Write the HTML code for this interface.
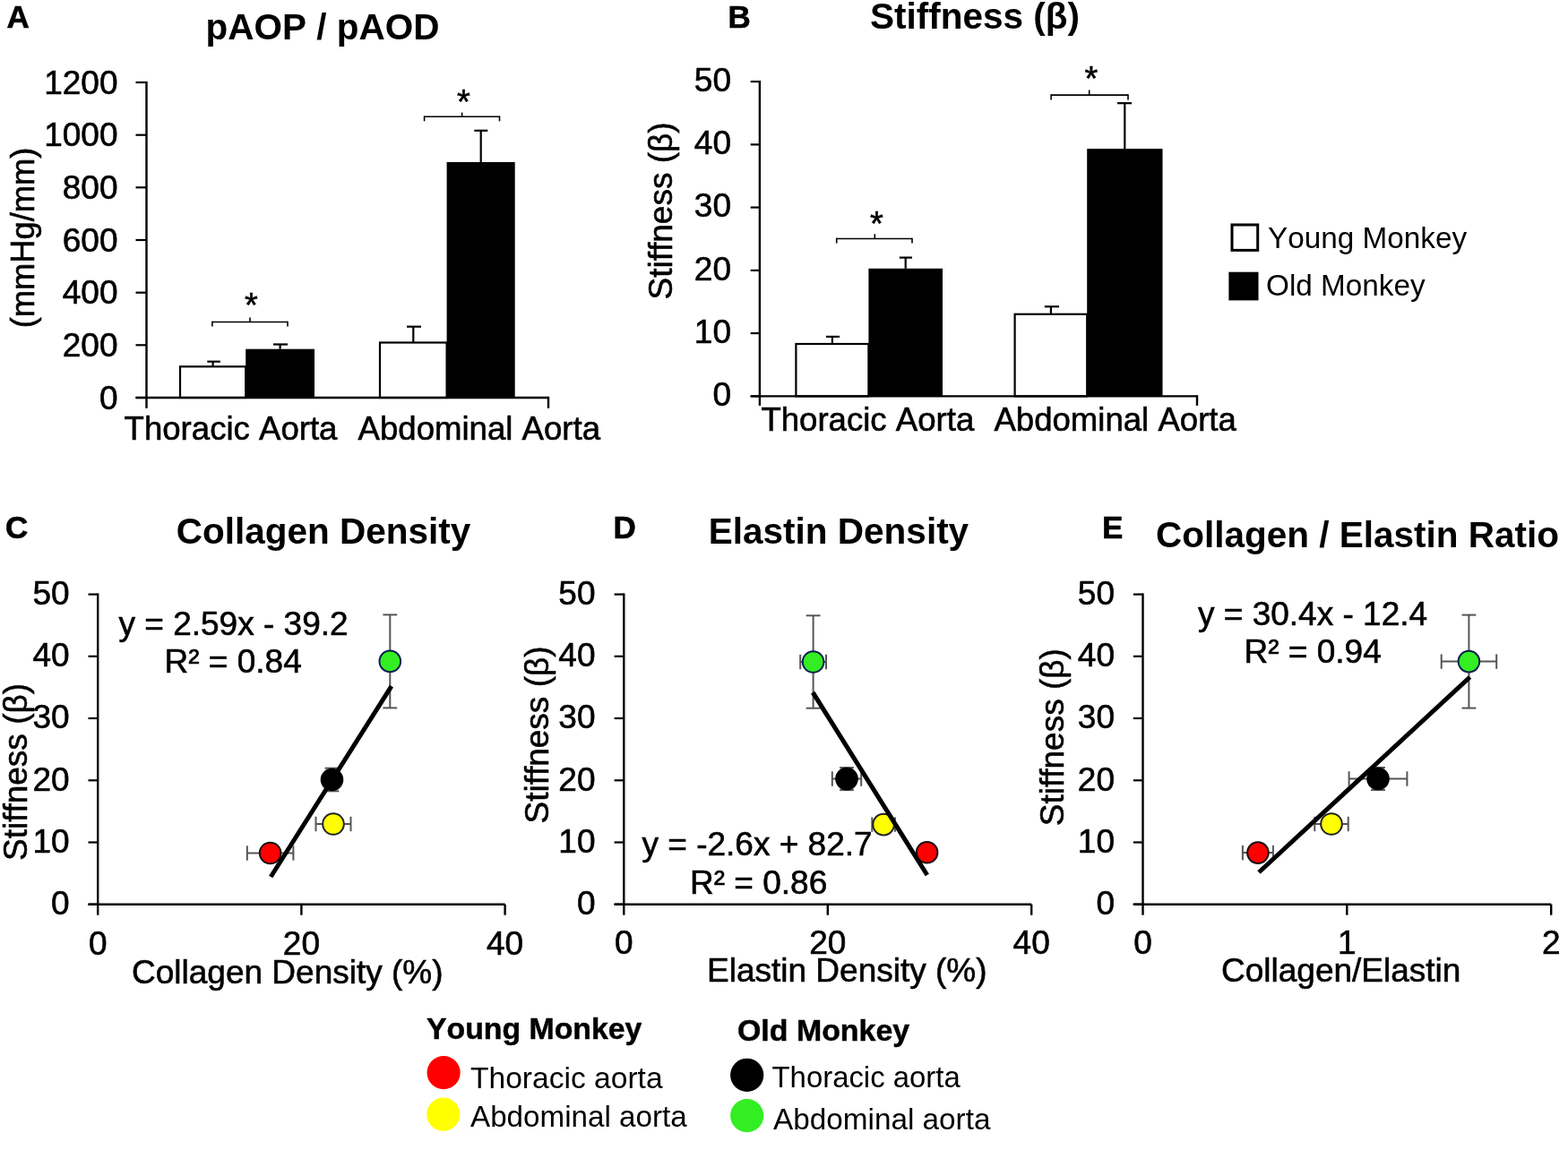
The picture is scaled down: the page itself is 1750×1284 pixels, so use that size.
<!DOCTYPE html>
<html><head><meta charset="utf-8"><title>Figure</title>
<style>html,body{margin:0;padding:0;background:#fff;}svg{display:block;}text{font-variant-ligatures:none;font-kerning:none;}</style>
</head><body>
<svg width="1750" height="1284" viewBox="0 0 1750 1284">
<rect width="1750" height="1284" fill="#fff"/>
<g font-family="Liberation Sans, Arial, sans-serif" fill="#000">
<line x1="237.6" y1="409.3" x2="237.6" y2="403.7" stroke="#000" stroke-width="2.2"/>
<line x1="231.3" y1="403.7" x2="245.9" y2="403.7" stroke="#000" stroke-width="2.2"/>
<rect x="201.0" y="409.3" width="73.2" height="34.7" fill="#fff" stroke="#000" stroke-width="2.2"/>
<line x1="312.6" y1="389.7" x2="312.6" y2="384.5" stroke="#000" stroke-width="2.2"/>
<line x1="305.0" y1="384.5" x2="321.0" y2="384.5" stroke="#000" stroke-width="2.2"/>
<rect x="274.2" y="389.7" width="76.8" height="54.3" fill="#000"/>
<line x1="461.3" y1="382.5" x2="461.3" y2="364.7" stroke="#000" stroke-width="2.2"/>
<line x1="454.0" y1="364.7" x2="470.0" y2="364.7" stroke="#000" stroke-width="2.2"/>
<rect x="424.0" y="382.5" width="74.6" height="61.5" fill="#fff" stroke="#000" stroke-width="2.2"/>
<line x1="536.7" y1="181.0" x2="536.7" y2="145.8" stroke="#000" stroke-width="2.2"/>
<line x1="529.3" y1="145.8" x2="544.3" y2="145.8" stroke="#000" stroke-width="2.2"/>
<rect x="498.6" y="181.0" width="76.1" height="263.0" fill="#000"/>
<line x1="163.5" y1="91.0" x2="163.5" y2="445.0" stroke="#000" stroke-width="2.4"/>
<line x1="151.5" y1="444.0" x2="163.5" y2="444.0" stroke="#000" stroke-width="2.2"/>
<text x="131.5" y="456.5" font-size="37" stroke="#000" stroke-width="0.6" text-anchor="end">0</text>
<line x1="151.5" y1="385.3" x2="163.5" y2="385.3" stroke="#000" stroke-width="2.2"/>
<text x="131.5" y="397.8" font-size="37" stroke="#000" stroke-width="0.6" text-anchor="end">200</text>
<line x1="151.5" y1="326.7" x2="163.5" y2="326.7" stroke="#000" stroke-width="2.2"/>
<text x="131.5" y="339.2" font-size="37" stroke="#000" stroke-width="0.6" text-anchor="end">400</text>
<line x1="151.5" y1="268.0" x2="163.5" y2="268.0" stroke="#000" stroke-width="2.2"/>
<text x="131.5" y="280.5" font-size="37" stroke="#000" stroke-width="0.6" text-anchor="end">600</text>
<line x1="151.5" y1="209.3" x2="163.5" y2="209.3" stroke="#000" stroke-width="2.2"/>
<text x="131.5" y="221.8" font-size="37" stroke="#000" stroke-width="0.6" text-anchor="end">800</text>
<line x1="151.5" y1="150.7" x2="163.5" y2="150.7" stroke="#000" stroke-width="2.2"/>
<text x="131.5" y="163.2" font-size="37" stroke="#000" stroke-width="0.6" text-anchor="end">1000</text>
<line x1="151.5" y1="92.0" x2="163.5" y2="92.0" stroke="#000" stroke-width="2.2"/>
<text x="131.5" y="104.5" font-size="37" stroke="#000" stroke-width="0.6" text-anchor="end">1200</text>
<line x1="151.5" y1="444.0" x2="612.0" y2="444.0" stroke="#000" stroke-width="2.4"/>
<line x1="163.5" y1="444.0" x2="163.5" y2="455.8" stroke="#000" stroke-width="2.4"/>
<line x1="612.0" y1="442.8" x2="612.0" y2="455.8" stroke="#000" stroke-width="2.4"/>
<line x1="236.9" y1="359.5" x2="321.0" y2="359.5" stroke="#000" stroke-width="1.6"/>
<line x1="236.9" y1="358.7" x2="236.9" y2="364.6" stroke="#000" stroke-width="1.6"/>
<line x1="321.0" y1="358.7" x2="321.0" y2="364.6" stroke="#000" stroke-width="1.6"/>
<line x1="279.0" y1="359.5" x2="279.0" y2="354.4" stroke="#000" stroke-width="1.6"/>
<text x="280.4" y="354.4" font-size="38" stroke="#000" stroke-width="0.6" text-anchor="middle" stroke="#000" stroke-width="0.7">*</text>
<line x1="473.6" y1="130.3" x2="557.5" y2="130.3" stroke="#000" stroke-width="1.6"/>
<line x1="473.6" y1="129.5" x2="473.6" y2="135.3" stroke="#000" stroke-width="1.6"/>
<line x1="557.5" y1="129.5" x2="557.5" y2="135.3" stroke="#000" stroke-width="1.6"/>
<line x1="515.6" y1="130.3" x2="515.6" y2="125.6" stroke="#000" stroke-width="1.6"/>
<text x="517.5" y="126.7" font-size="38" stroke="#000" stroke-width="0.6" text-anchor="middle" stroke="#000" stroke-width="0.7">*</text>
<text x="138.6" y="491.0" font-size="36.6" stroke="#000" stroke-width="0.6" text-anchor="start">Thoracic Aorta</text>
<text x="399.6" y="491.0" font-size="36.6" stroke="#000" stroke-width="0.6" text-anchor="start">Abdominal Aorta</text>
<line x1="928.9" y1="384.0" x2="928.9" y2="375.9" stroke="#000" stroke-width="2.2"/>
<line x1="922.0" y1="375.9" x2="937.0" y2="375.9" stroke="#000" stroke-width="2.2"/>
<rect x="888.4" y="384.0" width="81.0" height="58.4" fill="#fff" stroke="#000" stroke-width="2.2"/>
<line x1="1010.7" y1="299.8" x2="1010.7" y2="287.6" stroke="#000" stroke-width="2.2"/>
<line x1="1003.8" y1="287.6" x2="1018.0" y2="287.6" stroke="#000" stroke-width="2.2"/>
<rect x="969.4" y="299.8" width="82.6" height="142.6" fill="#000"/>
<line x1="1172.9" y1="350.8" x2="1172.9" y2="342.3" stroke="#000" stroke-width="2.2"/>
<line x1="1165.8" y1="342.3" x2="1182.0" y2="342.3" stroke="#000" stroke-width="2.2"/>
<rect x="1132.6" y="350.8" width="80.6" height="91.6" fill="#fff" stroke="#000" stroke-width="2.2"/>
<line x1="1255.3" y1="166.1" x2="1255.3" y2="115.2" stroke="#000" stroke-width="2.2"/>
<line x1="1247.0" y1="115.2" x2="1263.0" y2="115.2" stroke="#000" stroke-width="2.2"/>
<rect x="1213.2" y="166.1" width="84.3" height="276.3" fill="#000"/>
<line x1="847.9" y1="90.1" x2="847.9" y2="443.4" stroke="#000" stroke-width="2.4"/>
<line x1="837.7" y1="442.4" x2="847.9" y2="442.4" stroke="#000" stroke-width="2.2"/>
<text x="816.0" y="453.2" font-size="37" stroke="#000" stroke-width="0.6" text-anchor="end">0</text>
<line x1="837.7" y1="372.1" x2="847.9" y2="372.1" stroke="#000" stroke-width="2.2"/>
<text x="816.0" y="382.9" font-size="37" stroke="#000" stroke-width="0.6" text-anchor="end">10</text>
<line x1="837.7" y1="301.9" x2="847.9" y2="301.9" stroke="#000" stroke-width="2.2"/>
<text x="816.0" y="312.7" font-size="37" stroke="#000" stroke-width="0.6" text-anchor="end">20</text>
<line x1="837.7" y1="231.6" x2="847.9" y2="231.6" stroke="#000" stroke-width="2.2"/>
<text x="816.0" y="242.4" font-size="37" stroke="#000" stroke-width="0.6" text-anchor="end">30</text>
<line x1="837.7" y1="161.4" x2="847.9" y2="161.4" stroke="#000" stroke-width="2.2"/>
<text x="816.0" y="172.2" font-size="37" stroke="#000" stroke-width="0.6" text-anchor="end">40</text>
<line x1="837.7" y1="91.1" x2="847.9" y2="91.1" stroke="#000" stroke-width="2.2"/>
<text x="816.0" y="101.9" font-size="37" stroke="#000" stroke-width="0.6" text-anchor="end">50</text>
<line x1="837.7" y1="442.4" x2="1336.0" y2="442.4" stroke="#000" stroke-width="2.4"/>
<line x1="847.9" y1="442.4" x2="847.9" y2="452.9" stroke="#000" stroke-width="2.4"/>
<line x1="1336.0" y1="441.2" x2="1336.0" y2="452.9" stroke="#000" stroke-width="2.4"/>
<line x1="933.7" y1="266.5" x2="1018.0" y2="266.5" stroke="#000" stroke-width="1.6"/>
<line x1="933.7" y1="265.7" x2="933.7" y2="271.6" stroke="#000" stroke-width="1.6"/>
<line x1="1018.0" y1="265.7" x2="1018.0" y2="271.6" stroke="#000" stroke-width="1.6"/>
<line x1="976.3" y1="266.5" x2="976.3" y2="261.3" stroke="#000" stroke-width="1.6"/>
<text x="978.5" y="262.7" font-size="38" stroke="#000" stroke-width="0.6" text-anchor="middle" stroke="#000" stroke-width="0.7">*</text>
<line x1="1173.1" y1="106.1" x2="1259.0" y2="106.1" stroke="#000" stroke-width="1.6"/>
<line x1="1173.1" y1="105.3" x2="1173.1" y2="111.6" stroke="#000" stroke-width="1.6"/>
<line x1="1259.0" y1="105.3" x2="1259.0" y2="111.6" stroke="#000" stroke-width="1.6"/>
<line x1="1215.7" y1="106.1" x2="1215.7" y2="100.5" stroke="#000" stroke-width="1.6"/>
<text x="1218.0" y="100.7" font-size="38" stroke="#000" stroke-width="0.6" text-anchor="middle" stroke="#000" stroke-width="0.7">*</text>
<text x="849.4" y="481.3" font-size="36.6" stroke="#000" stroke-width="0.6" text-anchor="start">Thoracic Aorta</text>
<text x="1109.4" y="481.2" font-size="36.6" stroke="#000" stroke-width="0.6" text-anchor="start">Abdominal Aorta</text>
<text x="7.4" y="30.5" font-size="35" font-weight="bold" text-anchor="start" stroke="#000" stroke-width="0.6">A</text>
<text x="229.5" y="43.8" font-size="40.5" font-weight="bold" text-anchor="start">pAOP / pAOD</text>
<text x="812.4" y="30.5" font-size="35" font-weight="bold" text-anchor="start" stroke="#000" stroke-width="0.6">B</text>
<text x="971.0" y="31.6" font-size="40.5" font-weight="bold" text-anchor="start">Stiffness (β)</text>
<text x="0.0" y="0.0" font-size="36.3" stroke="#000" stroke-width="0.6" text-anchor="middle" transform="translate(37.8,265.5) rotate(-90)">(mmHg/mm)</text>
<text x="0.0" y="0.0" font-size="37" stroke="#000" stroke-width="0.6" text-anchor="middle" transform="translate(750,235.4) rotate(-90)">Stiffness (β)</text>
<rect x="1375.0" y="251.0" width="28.7" height="28.4" fill="#fff" stroke="#000" stroke-width="3"/>
<rect x="1371.4" y="303.7" width="33.1" height="31.7" fill="#000"/>
<text x="1415.0" y="276.8" font-size="33.3" text-anchor="start">Young Monkey</text>
<text x="1413.0" y="329.8" font-size="33.3" text-anchor="start">Old Monkey</text>
<line x1="109.2" y1="662.6" x2="109.2" y2="1010.7" stroke="#000" stroke-width="2.4"/>
<line x1="98.5" y1="1009.7" x2="109.2" y2="1009.7" stroke="#000" stroke-width="2.2"/>
<text x="77.6" y="1020.9" font-size="37" stroke="#000" stroke-width="0.6" text-anchor="end">0</text>
<line x1="98.5" y1="940.5" x2="109.2" y2="940.5" stroke="#000" stroke-width="2.2"/>
<text x="77.6" y="951.7" font-size="37" stroke="#000" stroke-width="0.6" text-anchor="end">10</text>
<line x1="98.5" y1="871.3" x2="109.2" y2="871.3" stroke="#000" stroke-width="2.2"/>
<text x="77.6" y="882.5" font-size="37" stroke="#000" stroke-width="0.6" text-anchor="end">20</text>
<line x1="98.5" y1="802.0" x2="109.2" y2="802.0" stroke="#000" stroke-width="2.2"/>
<text x="77.6" y="813.2" font-size="37" stroke="#000" stroke-width="0.6" text-anchor="end">30</text>
<line x1="98.5" y1="732.8" x2="109.2" y2="732.8" stroke="#000" stroke-width="2.2"/>
<text x="77.6" y="744.0" font-size="37" stroke="#000" stroke-width="0.6" text-anchor="end">40</text>
<line x1="98.5" y1="663.6" x2="109.2" y2="663.6" stroke="#000" stroke-width="2.2"/>
<text x="77.6" y="674.8" font-size="37" stroke="#000" stroke-width="0.6" text-anchor="end">50</text>
<line x1="98.5" y1="1009.7" x2="563.6" y2="1009.7" stroke="#000" stroke-width="2.4"/>
<line x1="109.2" y1="1009.7" x2="109.2" y2="1021.7" stroke="#000" stroke-width="2.4"/>
<text x="109.2" y="1066.3" font-size="37" stroke="#000" stroke-width="0.6" text-anchor="middle">0</text>
<line x1="336.4" y1="1009.7" x2="336.4" y2="1021.7" stroke="#000" stroke-width="2.4"/>
<text x="336.4" y="1066.3" font-size="37" stroke="#000" stroke-width="0.6" text-anchor="middle">20</text>
<line x1="563.6" y1="1009.7" x2="563.6" y2="1021.7" stroke="#000" stroke-width="2.4"/>
<text x="563.6" y="1066.3" font-size="37" stroke="#000" stroke-width="0.6" text-anchor="middle">40</text>
<line x1="435.3" y1="686.4" x2="435.3" y2="790.4" stroke="#555" stroke-width="2"/>
<line x1="427.4" y1="686.4" x2="443.2" y2="686.4" stroke="#555" stroke-width="2"/>
<line x1="427.4" y1="790.4" x2="443.2" y2="790.4" stroke="#555" stroke-width="2"/>
<line x1="370.5" y1="857.7" x2="370.5" y2="883.3" stroke="#555" stroke-width="2"/>
<line x1="362.6" y1="857.7" x2="378.4" y2="857.7" stroke="#555" stroke-width="2"/>
<line x1="362.6" y1="883.3" x2="378.4" y2="883.3" stroke="#555" stroke-width="2"/>
<line x1="352.5" y1="920.0" x2="391.5" y2="920.0" stroke="#555" stroke-width="2"/>
<line x1="352.5" y1="911.8" x2="352.5" y2="928.2" stroke="#555" stroke-width="2"/>
<line x1="391.5" y1="911.8" x2="391.5" y2="928.2" stroke="#555" stroke-width="2"/>
<line x1="275.8" y1="952.5" x2="327.4" y2="952.5" stroke="#555" stroke-width="2"/>
<line x1="275.8" y1="944.3" x2="275.8" y2="960.7" stroke="#555" stroke-width="2"/>
<line x1="327.4" y1="944.3" x2="327.4" y2="960.7" stroke="#555" stroke-width="2"/>
<circle cx="435.3" cy="738.4" r="11.8" fill="#33ee22" stroke="#0a1e50" stroke-width="2"/>
<circle cx="370.5" cy="870.5" r="11.8" fill="#000" stroke="#000" stroke-width="2"/>
<circle cx="372.0" cy="920.0" r="11.8" fill="#ffff00" stroke="#222" stroke-width="2"/>
<circle cx="301.6" cy="952.5" r="11.8" fill="#ff0000" stroke="#111" stroke-width="2"/>
<line x1="302.2" y1="979.0" x2="436.9" y2="766.2" stroke="#000" stroke-width="5"/>
<text x="6.1" y="601.0" font-size="35" font-weight="bold" text-anchor="start" stroke="#000" stroke-width="0.6">C</text>
<text x="196.8" y="607.1" font-size="40.5" font-weight="bold" text-anchor="start">Collagen Density</text>
<text x="132.5" y="709.3" font-size="37" stroke="#000" stroke-width="0.6" text-anchor="start">y = 2.59x - 39.2</text>
<text x="183.5" y="750.6" font-size="37" stroke="#000" stroke-width="0.6" text-anchor="start">R² = 0.84</text>
<text x="147.0" y="1098.4" font-size="37" stroke="#000" stroke-width="0.6" text-anchor="start">Collagen Density (%)</text>
<line x1="696.3" y1="662.6" x2="696.3" y2="1010.7" stroke="#000" stroke-width="2.4"/>
<line x1="685.6" y1="1009.7" x2="696.3" y2="1009.7" stroke="#000" stroke-width="2.2"/>
<text x="664.5" y="1020.9" font-size="37" stroke="#000" stroke-width="0.6" text-anchor="end">0</text>
<line x1="685.6" y1="940.5" x2="696.3" y2="940.5" stroke="#000" stroke-width="2.2"/>
<text x="664.5" y="951.7" font-size="37" stroke="#000" stroke-width="0.6" text-anchor="end">10</text>
<line x1="685.6" y1="871.3" x2="696.3" y2="871.3" stroke="#000" stroke-width="2.2"/>
<text x="664.5" y="882.5" font-size="37" stroke="#000" stroke-width="0.6" text-anchor="end">20</text>
<line x1="685.6" y1="802.0" x2="696.3" y2="802.0" stroke="#000" stroke-width="2.2"/>
<text x="664.5" y="813.2" font-size="37" stroke="#000" stroke-width="0.6" text-anchor="end">30</text>
<line x1="685.6" y1="732.8" x2="696.3" y2="732.8" stroke="#000" stroke-width="2.2"/>
<text x="664.5" y="744.0" font-size="37" stroke="#000" stroke-width="0.6" text-anchor="end">40</text>
<line x1="685.6" y1="663.6" x2="696.3" y2="663.6" stroke="#000" stroke-width="2.2"/>
<text x="664.5" y="674.8" font-size="37" stroke="#000" stroke-width="0.6" text-anchor="end">50</text>
<line x1="685.6" y1="1009.7" x2="1151.2" y2="1009.7" stroke="#000" stroke-width="2.4"/>
<line x1="696.3" y1="1009.7" x2="696.3" y2="1021.7" stroke="#000" stroke-width="2.4"/>
<text x="696.3" y="1064.6" font-size="37" stroke="#000" stroke-width="0.6" text-anchor="middle">0</text>
<line x1="923.8" y1="1009.7" x2="923.8" y2="1021.7" stroke="#000" stroke-width="2.4"/>
<text x="923.8" y="1064.6" font-size="37" stroke="#000" stroke-width="0.6" text-anchor="middle">20</text>
<line x1="1151.2" y1="1009.7" x2="1151.2" y2="1021.7" stroke="#000" stroke-width="2.4"/>
<text x="1151.2" y="1064.6" font-size="37" stroke="#000" stroke-width="0.6" text-anchor="middle">40</text>
<line x1="893.2" y1="739.0" x2="922.0" y2="739.0" stroke="#555" stroke-width="2"/>
<line x1="893.2" y1="730.8" x2="893.2" y2="747.2" stroke="#555" stroke-width="2"/>
<line x1="922.0" y1="730.8" x2="922.0" y2="747.2" stroke="#555" stroke-width="2"/>
<line x1="907.6" y1="687.3" x2="907.6" y2="790.7" stroke="#555" stroke-width="2"/>
<line x1="899.7" y1="687.3" x2="915.5" y2="687.3" stroke="#555" stroke-width="2"/>
<line x1="899.7" y1="790.7" x2="915.5" y2="790.7" stroke="#555" stroke-width="2"/>
<line x1="928.8" y1="869.6" x2="961.2" y2="869.6" stroke="#555" stroke-width="2"/>
<line x1="928.8" y1="861.4" x2="928.8" y2="877.8" stroke="#555" stroke-width="2"/>
<line x1="961.2" y1="861.4" x2="961.2" y2="877.8" stroke="#555" stroke-width="2"/>
<line x1="945.0" y1="857.1" x2="945.0" y2="882.1" stroke="#555" stroke-width="2"/>
<line x1="937.1" y1="857.1" x2="952.9" y2="857.1" stroke="#555" stroke-width="2"/>
<line x1="937.1" y1="882.1" x2="952.9" y2="882.1" stroke="#555" stroke-width="2"/>
<line x1="973.3" y1="920.6" x2="998.9" y2="920.6" stroke="#555" stroke-width="2"/>
<line x1="973.3" y1="912.4" x2="973.3" y2="928.8" stroke="#555" stroke-width="2"/>
<line x1="998.9" y1="912.4" x2="998.9" y2="928.8" stroke="#555" stroke-width="2"/>
<circle cx="907.6" cy="739.0" r="11.8" fill="#33ee22" stroke="#0a1e50" stroke-width="2"/>
<circle cx="945.0" cy="869.6" r="11.8" fill="#000" stroke="#000" stroke-width="2"/>
<circle cx="986.1" cy="920.6" r="11.8" fill="#ffff00" stroke="#222" stroke-width="2"/>
<circle cx="1034.6" cy="951.8" r="11.8" fill="#ff0000" stroke="#111" stroke-width="2"/>
<line x1="907.2" y1="773.2" x2="1034.8" y2="977.0" stroke="#000" stroke-width="5"/>
<text x="684.4" y="601.0" font-size="35" font-weight="bold" text-anchor="start" stroke="#000" stroke-width="0.6">D</text>
<text x="790.8" y="607.1" font-size="40.5" font-weight="bold" text-anchor="start">Elastin Density</text>
<text x="716.5" y="955.0" font-size="37" stroke="#000" stroke-width="0.6" text-anchor="start">y = -2.6x + 82.7</text>
<text x="770.0" y="997.6" font-size="37" stroke="#000" stroke-width="0.6" text-anchor="start">R² = 0.86</text>
<text x="789.0" y="1095.9" font-size="37" stroke="#000" stroke-width="0.6" text-anchor="start">Elastin Density (%)</text>
<line x1="1275.5" y1="662.6" x2="1275.5" y2="1010.7" stroke="#000" stroke-width="2.4"/>
<line x1="1264.8" y1="1009.7" x2="1275.5" y2="1009.7" stroke="#000" stroke-width="2.2"/>
<text x="1244.0" y="1020.9" font-size="37" stroke="#000" stroke-width="0.6" text-anchor="end">0</text>
<line x1="1264.8" y1="940.5" x2="1275.5" y2="940.5" stroke="#000" stroke-width="2.2"/>
<text x="1244.0" y="951.7" font-size="37" stroke="#000" stroke-width="0.6" text-anchor="end">10</text>
<line x1="1264.8" y1="871.3" x2="1275.5" y2="871.3" stroke="#000" stroke-width="2.2"/>
<text x="1244.0" y="882.5" font-size="37" stroke="#000" stroke-width="0.6" text-anchor="end">20</text>
<line x1="1264.8" y1="802.0" x2="1275.5" y2="802.0" stroke="#000" stroke-width="2.2"/>
<text x="1244.0" y="813.2" font-size="37" stroke="#000" stroke-width="0.6" text-anchor="end">30</text>
<line x1="1264.8" y1="732.8" x2="1275.5" y2="732.8" stroke="#000" stroke-width="2.2"/>
<text x="1244.0" y="744.0" font-size="37" stroke="#000" stroke-width="0.6" text-anchor="end">40</text>
<line x1="1264.8" y1="663.6" x2="1275.5" y2="663.6" stroke="#000" stroke-width="2.2"/>
<text x="1244.0" y="674.8" font-size="37" stroke="#000" stroke-width="0.6" text-anchor="end">50</text>
<line x1="1264.8" y1="1009.7" x2="1731.2" y2="1009.7" stroke="#000" stroke-width="2.4"/>
<line x1="1275.5" y1="1009.7" x2="1275.5" y2="1021.7" stroke="#000" stroke-width="2.4"/>
<text x="1275.5" y="1065.3" font-size="37" stroke="#000" stroke-width="0.6" text-anchor="middle">0</text>
<line x1="1503.3" y1="1009.7" x2="1503.3" y2="1021.7" stroke="#000" stroke-width="2.4"/>
<text x="1503.3" y="1065.3" font-size="37" stroke="#000" stroke-width="0.6" text-anchor="middle">1</text>
<line x1="1731.2" y1="1009.7" x2="1731.2" y2="1021.7" stroke="#000" stroke-width="2.4"/>
<text x="1731.2" y="1065.3" font-size="37" stroke="#000" stroke-width="0.6" text-anchor="middle">2</text>
<line x1="1608.7" y1="738.6" x2="1670.2" y2="738.6" stroke="#555" stroke-width="2"/>
<line x1="1608.7" y1="730.4" x2="1608.7" y2="746.8" stroke="#555" stroke-width="2"/>
<line x1="1670.2" y1="730.4" x2="1670.2" y2="746.8" stroke="#555" stroke-width="2"/>
<line x1="1639.4" y1="686.6" x2="1639.4" y2="790.6" stroke="#555" stroke-width="2"/>
<line x1="1631.5" y1="686.6" x2="1647.3" y2="686.6" stroke="#555" stroke-width="2"/>
<line x1="1631.5" y1="790.6" x2="1647.3" y2="790.6" stroke="#555" stroke-width="2"/>
<line x1="1505.6" y1="869.5" x2="1570.4" y2="869.5" stroke="#555" stroke-width="2"/>
<line x1="1505.6" y1="861.3" x2="1505.6" y2="877.7" stroke="#555" stroke-width="2"/>
<line x1="1570.4" y1="861.3" x2="1570.4" y2="877.7" stroke="#555" stroke-width="2"/>
<line x1="1538.0" y1="857.0" x2="1538.0" y2="882.0" stroke="#555" stroke-width="2"/>
<line x1="1530.1" y1="857.0" x2="1545.9" y2="857.0" stroke="#555" stroke-width="2"/>
<line x1="1530.1" y1="882.0" x2="1545.9" y2="882.0" stroke="#555" stroke-width="2"/>
<line x1="1467.3" y1="920.0" x2="1504.7" y2="920.0" stroke="#555" stroke-width="2"/>
<line x1="1467.3" y1="911.8" x2="1467.3" y2="928.2" stroke="#555" stroke-width="2"/>
<line x1="1504.7" y1="911.8" x2="1504.7" y2="928.2" stroke="#555" stroke-width="2"/>
<line x1="1386.9" y1="952.1" x2="1420.9" y2="952.1" stroke="#555" stroke-width="2"/>
<line x1="1386.9" y1="943.9" x2="1386.9" y2="960.3" stroke="#555" stroke-width="2"/>
<line x1="1420.9" y1="943.9" x2="1420.9" y2="960.3" stroke="#555" stroke-width="2"/>
<circle cx="1639.4" cy="738.6" r="11.8" fill="#33ee22" stroke="#0a1e50" stroke-width="2"/>
<circle cx="1538.0" cy="869.5" r="11.8" fill="#000" stroke="#000" stroke-width="2"/>
<circle cx="1486.0" cy="920.0" r="11.8" fill="#ffff00" stroke="#222" stroke-width="2"/>
<circle cx="1403.9" cy="952.1" r="11.8" fill="#ff0000" stroke="#111" stroke-width="2"/>
<line x1="1405.0" y1="974.0" x2="1640.5" y2="756.0" stroke="#000" stroke-width="5"/>
<text x="1230.1" y="601.0" font-size="35" font-weight="bold" text-anchor="start" stroke="#000" stroke-width="0.6">E</text>
<text x="1290.0" y="610.5" font-size="40.5" font-weight="bold" text-anchor="start">Collagen / Elastin Ratio</text>
<text x="1337.0" y="698.4" font-size="37" stroke="#000" stroke-width="0.6" text-anchor="start">y = 30.4x - 12.4</text>
<text x="1388.5" y="740.2" font-size="37" stroke="#000" stroke-width="0.6" text-anchor="start">R² = 0.94</text>
<text x="1363.0" y="1096.0" font-size="37" stroke="#000" stroke-width="0.6" text-anchor="start">Collagen/Elastin</text>
<text x="0.0" y="0.0" font-size="37" stroke="#000" stroke-width="0.6" text-anchor="middle" transform="translate(29.5,862) rotate(-90)">Stiffness (β)</text>
<text x="0.0" y="0.0" font-size="37" stroke="#000" stroke-width="0.6" text-anchor="middle" transform="translate(612,820.5) rotate(-90)">Stiffness (β)</text>
<text x="0.0" y="0.0" font-size="37" stroke="#000" stroke-width="0.6" text-anchor="middle" transform="translate(1186.5,823.2) rotate(-90)">Stiffness (β)</text>
<text x="476.0" y="1159.6" font-size="33.8" font-weight="bold" text-anchor="start" stroke="#000" stroke-width="0.5">Young Monkey</text>
<text x="823.0" y="1161.5" font-size="33.9" font-weight="bold" text-anchor="start" stroke="#000" stroke-width="0.5">Old Monkey</text>
<circle cx="495.1" cy="1197.6" r="18.6" fill="#ff0000"/>
<circle cx="494.8" cy="1244.2" r="18.6" fill="#ffff00"/>
<circle cx="833.7" cy="1200.3" r="18.6" fill="#000"/>
<circle cx="833.7" cy="1245.6" r="18.6" fill="#33ee22"/>
<text x="525.0" y="1214.5" font-size="33.6" text-anchor="start">Thoracic aorta</text>
<text x="525.0" y="1258.0" font-size="33.2" text-anchor="start">Abdominal aorta</text>
<text x="861.5" y="1213.8" font-size="32.9" text-anchor="start">Thoracic aorta</text>
<text x="863.0" y="1260.5" font-size="33.3" text-anchor="start">Abdominal aorta</text>
</g></svg>
</body></html>
